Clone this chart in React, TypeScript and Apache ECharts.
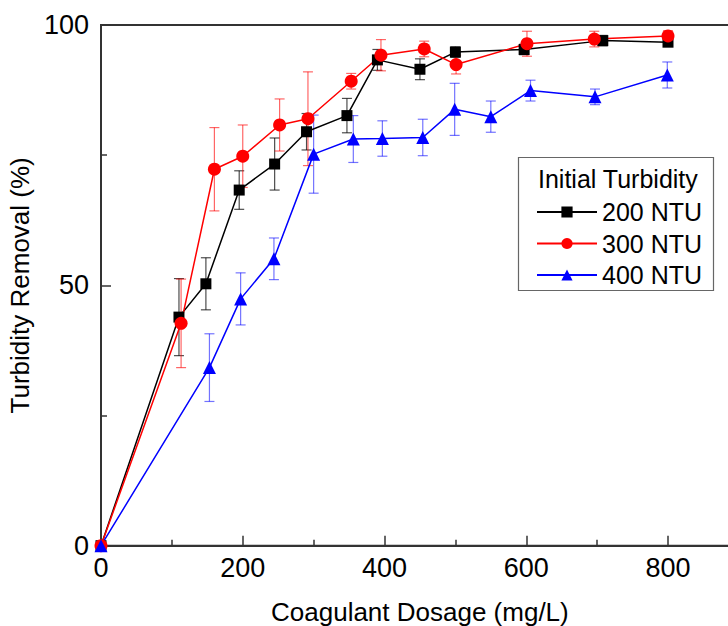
import React, { useEffect, useRef } from 'react';
import * as echarts from 'echarts';

// Coagulant dosage (mg/L) / turbidity removal (%) / error (±)
const dose200 = [0, 110, 148, 195, 245, 290, 347, 390, 450, 500, 597, 708, 800];
const removal200 = [0, 43.9, 50.3, 68.3, 73.3, 79.5, 82.6, 93.3, 91.5, 94.8, 95.3, 97.0, 96.7];
const err200 = [0, 7.4, 5, 3.7, 5, 3.5, 3.3, 2, 2, 1, 1, 1, 0.8];

const dose300 = [0, 113, 160, 200, 252, 292, 353, 395, 456, 501, 601, 696, 800];
const removal300 = [0, 42.7, 72.3, 74.8, 80.8, 82.0, 89.2, 94.2, 95.4, 92.4, 96.4, 97.3, 97.9];
const err300 = [0, 8.5, 8, 6, 5, 9, 1.5, 3, 1.5, 1.8, 2.4, 1.5, 1];

const dose400 = [0, 153, 197, 244, 300, 356, 397, 454, 499, 550, 606, 697, 799];
const removal400 = [0, 34.2, 47.4, 55.1, 75.2, 78.1, 78.2, 78.4, 83.8, 82.4, 87.4, 86.2, 90.4];
const err400 = [0, 6.5, 5, 4, 7.5, 4.5, 3.4, 3.5, 5, 3, 2, 1.5, 2.5];

const xTickLabels = ['0', '200', '400', '600', '800'];
const yTickLabels = ['0', '50', '100'];
const seriesNames = ['200 NTU', '300 NTU', '400 NTU'];
const legendTitle = 'Initial Turbidity';
const xTitle = 'Coagulant Dosage (mg/L)';
const yTitle = 'Turbidity Removal (%)';

const FONT = "'Liberation Sans', Arial, Helvetica, sans-serif";

export default function App() {
  const ref = useRef<HTMLDivElement>(null);
  useEffect(() => {
    const chart = echarts.init(ref.current!, null, { renderer: 'svg' });

    const mk = (
      name: string,
      xs: number[],
      ys: number[],
      es: number[],
      color: string,
      errColor: string,
      symbol: string,
      size: number
    ) => {
      const pts = xs.map((x, i) => [x, ys[i]]);
      const errPts = xs.map((x, i) => [x, ys[i], es[i]]);
      return [
        {
          type: 'custom',
          name: name + ' err',
          data: errPts,
          encode: { x: 0, y: 1 },
          z: 1,
          silent: true,
          renderItem: (params: any, api: any) => {
            const x = api.value(0);
            const y = api.value(1);
            const e = api.value(2);
            if (!e) return null;
            const p1 = api.coord([x, y + e]);
            const p2 = api.coord([x, y - e]);
            const hw = 5;
            const style = { stroke: errColor, lineWidth: 1.2 };
            return {
              type: 'group',
              children: [
                { type: 'line', shape: { x1: p1[0], y1: p1[1], x2: p2[0], y2: p2[1] }, style },
                { type: 'line', shape: { x1: p1[0] - hw, y1: p1[1], x2: p1[0] + hw, y2: p1[1] }, style },
                { type: 'line', shape: { x1: p2[0] - hw, y1: p2[1], x2: p2[0] + hw, y2: p2[1] }, style },
              ],
            };
          },
        },
        {
          type: 'line',
          name,
          data: pts,
          symbol,
          symbolSize: size,
          showAllSymbol: true,
          lineStyle: { color, width: 1.5 },
          itemStyle: { color },
          z: 3,
        },
      ];
    };

    const option: any = {
      animation: false,
      backgroundColor: '#fff',
      textStyle: { fontFamily: FONT },
      grid: {
        left: 101,
        top: 25,
        width: 708.75,
        height: 520.7,
        outerBoundsMode: 'none',
        containLabel: false,
        show: true,
        borderColor: '#333',
        borderWidth: 2,
        backgroundColor: 'transparent',
      },
      xAxis: {
        type: 'value',
        min: 0,
        max: 1000,
        interval: 200,
        name: xTitle,
        nameLocation: 'middle',
        nameGap: 53,
        nameTextStyle: { fontSize: 26, color: '#000', fontFamily: FONT, padding: [0, 71, 0, 0] },
        axisLine: { show: true, lineStyle: { color: '#333', width: 2 } },
        axisTick: { show: true, inside: true, length: 10, lineStyle: { color: '#333', width: 1.5 } },
        minorTick: { show: true, splitNumber: 2, length: 6, lineStyle: { color: '#333', width: 1.5 } },
        axisLabel: {
          fontSize: 27,
          color: '#000',
          margin: 9,
          fontFamily: FONT,
          formatter: (v: number) => (xTickLabels.includes(String(v)) ? String(v) : ''),
        },
        splitLine: { show: false },
      },
      yAxis: {
        type: 'value',
        min: 0,
        max: 100,
        interval: 50,
        name: yTitle,
        nameLocation: 'middle',
        nameGap: 65,
        nameTextStyle: { fontSize: 26, color: '#000', fontFamily: FONT },
        axisLine: { show: true, lineStyle: { color: '#333', width: 2 } },
        axisTick: { show: true, inside: true, length: 10, lineStyle: { color: '#333', width: 1.5 } },
        minorTick: { show: true, splitNumber: 2, length: 6, lineStyle: { color: '#333', width: 1.5 } },
        axisLabel: {
          fontSize: 27,
          color: '#000',
          margin: 12,
          fontFamily: FONT,
          formatter: (v: number) => (yTickLabels.includes(String(v)) ? String(v) : ''),
        },
        splitLine: { show: false },
      },
      legend: {
        data: seriesNames,
        orient: 'vertical',
        left: 536,
        top: 199.5,
        padding: 0,
        itemWidth: 60,
        itemHeight: 14,
        itemGap: 6.5,
        selectedMode: false,
        textStyle: { fontSize: 25, lineHeight: 25, color: '#000', fontFamily: FONT },
      },
      graphic: [
        {
          type: 'rect',
          shape: { x: 518.5, y: 157.5, width: 195, height: 133 },
          style: { fill: 'rgba(255,255,255,0)', stroke: '#666', lineWidth: 1.2 },
          z: 10,
        },
        {
          type: 'text',
          x: 538,
          y: 179,
          style: {
            text: legendTitle,
            fontSize: 25,
            fontFamily: FONT,
            fill: '#000',
            verticalAlign: 'middle',
            align: 'left',
          },
          z: 10,
        },
      ],
      series: [
        ...mk(seriesNames[0], dose200, removal200, err200, '#000000', 'rgba(0,0,0,0.7)', 'rect', 11),
        ...mk(seriesNames[1], dose300, removal300, err300, '#ff0000', 'rgba(255,0,0,0.6)', 'circle', 13),
        ...mk(seriesNames[2], dose400, removal400, err400, '#0000ff', 'rgba(0,0,255,0.55)', 'triangle', 13),
      ],
    };

    chart.setOption(option);
    return () => chart.dispose();
  }, []);

  return (
    <div
      ref={ref}
      style={{ position: 'absolute', left: 0, top: 0, width: 728, height: 626, background: '#fff' }}
    />
  );
}
